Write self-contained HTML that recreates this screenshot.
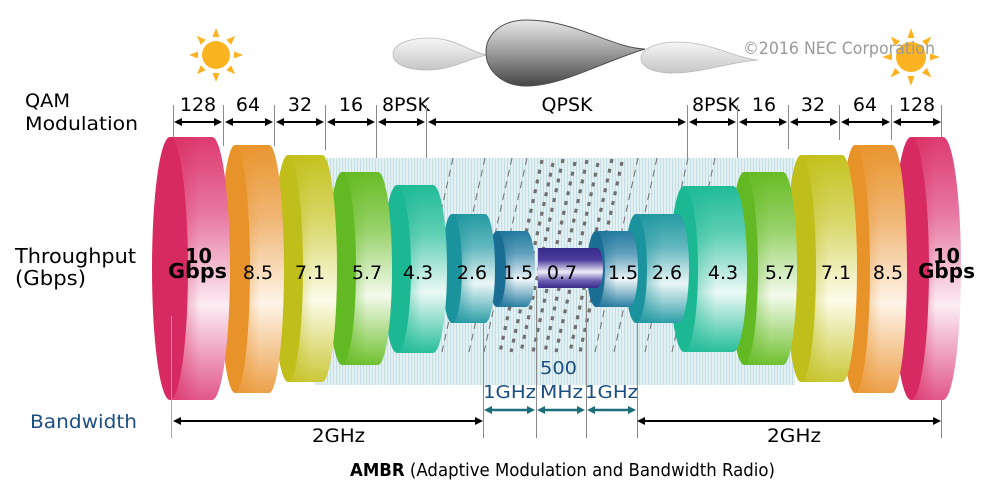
<!DOCTYPE html>
<html><head><meta charset="utf-8"><style>
html,body{margin:0;padding:0;background:#fff;}
body{width:1000px;height:492px;overflow:hidden;}
svg{display:block;}
text{font-family:"DejaVu Sans","Liberation Sans",sans-serif;}
</style></head><body>
<svg width="1000" height="492" viewBox="0 0 1000 492" xmlns="http://www.w3.org/2000/svg">
<defs>
<pattern id="stripes" width="3" height="10" patternUnits="userSpaceOnUse">
<rect width="3" height="10" fill="#e4f1f4"/><rect width="1" height="10" fill="#c5dee4"/>
</pattern>
<linearGradient id="gPink" x1="0" y1="0" x2="0" y2="1"><stop offset="0" stop-color="#dd3a70"/><stop offset=".3" stop-color="#e87aa3"/><stop offset=".64" stop-color="#fcedf3"/><stop offset="1" stop-color="#e1578a"/></linearGradient>
<linearGradient id="gOr" x1="0" y1="0" x2="0" y2="1"><stop offset="0" stop-color="#e9962f"/><stop offset=".3" stop-color="#f0b676"/><stop offset=".64" stop-color="#fef4e8"/><stop offset="1" stop-color="#eca04a"/></linearGradient>
<linearGradient id="gYe" x1="0" y1="0" x2="0" y2="1"><stop offset="0" stop-color="#c4c21f"/><stop offset=".3" stop-color="#d9d86c"/><stop offset=".64" stop-color="#fcfcea"/><stop offset="1" stop-color="#cac838"/></linearGradient>
<linearGradient id="gGr" x1="0" y1="0" x2="0" y2="1"><stop offset="0" stop-color="#68bc25"/><stop offset=".3" stop-color="#98d26b"/><stop offset=".64" stop-color="#f3faec"/><stop offset="1" stop-color="#70c131"/></linearGradient>
<linearGradient id="gTe" x1="0" y1="0" x2="0" y2="1"><stop offset="0" stop-color="#20bb97"/><stop offset=".3" stop-color="#62cfb6"/><stop offset=".64" stop-color="#ecf9f6"/><stop offset="1" stop-color="#28be9b"/></linearGradient>
<linearGradient id="gTb" x1="0" y1="0" x2="0" y2="1"><stop offset="0" stop-color="#259aa3"/><stop offset=".3" stop-color="#62b7be"/><stop offset=".64" stop-color="#ebf6f7"/><stop offset="1" stop-color="#2c9ea7"/></linearGradient>
<linearGradient id="gBl" x1="0" y1="0" x2="0" y2="1"><stop offset="0" stop-color="#257ba0"/><stop offset=".3" stop-color="#62a1be"/><stop offset=".64" stop-color="#eef5f8"/><stop offset="1" stop-color="#2a7fa3"/></linearGradient>
<linearGradient id="gPu" x1="0" y1="0" x2="0" y2="1"><stop offset="0" stop-color="#382a88"/><stop offset=".3" stop-color="#4b3d9c"/><stop offset=".6" stop-color="#f0eef8"/><stop offset=".82" stop-color="#6a5db1"/><stop offset="1" stop-color="#392b89"/></linearGradient>
<linearGradient id="hPink" x1="0" y1="0" x2="1" y2="0"><stop offset="0" stop-color="#d82a62" stop-opacity=".6"/><stop offset=".5" stop-color="#d82a62" stop-opacity="0"/></linearGradient>
<linearGradient id="hOr" x1="0" y1="0" x2="1" y2="0"><stop offset="0" stop-color="#e8932a" stop-opacity=".6"/><stop offset=".5" stop-color="#e8932a" stop-opacity="0"/></linearGradient>
<linearGradient id="hYe" x1="0" y1="0" x2="1" y2="0"><stop offset="0" stop-color="#c0be1b" stop-opacity=".6"/><stop offset=".5" stop-color="#c0be1b" stop-opacity="0"/></linearGradient>
<linearGradient id="hGr" x1="0" y1="0" x2="1" y2="0"><stop offset="0" stop-color="#63b923" stop-opacity=".6"/><stop offset=".5" stop-color="#63b923" stop-opacity="0"/></linearGradient>
<linearGradient id="hTe" x1="0" y1="0" x2="1" y2="0"><stop offset="0" stop-color="#1cb894" stop-opacity=".6"/><stop offset=".5" stop-color="#1cb894" stop-opacity="0"/></linearGradient>
<linearGradient id="hTb" x1="0" y1="0" x2="1" y2="0"><stop offset="0" stop-color="#1a939c" stop-opacity=".6"/><stop offset=".5" stop-color="#1a939c" stop-opacity="0"/></linearGradient>
<linearGradient id="hBl" x1="0" y1="0" x2="1" y2="0"><stop offset="0" stop-color="#1a6e93" stop-opacity=".6"/><stop offset=".5" stop-color="#1a6e93" stop-opacity="0"/></linearGradient>
<linearGradient id="cLight" x1="0" y1="0" x2="0" y2="1"><stop offset="0" stop-color="#f6f6f6"/><stop offset="1" stop-color="#c6c6c6"/></linearGradient>
<linearGradient id="cDark" x1="0" y1="0" x2="0" y2="1"><stop offset="0" stop-color="#e8e8e8"/><stop offset=".5" stop-color="#9a9a9a"/><stop offset="1" stop-color="#454545"/></linearGradient>
</defs>

<!-- suns -->
<g transform="translate(216,55)" fill="#fbb321">
<circle r="14"/>
<polygon points="0,-27 -3.5,-18 3.5,-18"/>
<polygon points="0,-27 -3.5,-18 3.5,-18" transform="rotate(45)"/>
<polygon points="0,-27 -3.5,-18 3.5,-18" transform="rotate(90)"/>
<polygon points="0,-27 -3.5,-18 3.5,-18" transform="rotate(135)"/>
<polygon points="0,-27 -3.5,-18 3.5,-18" transform="rotate(180)"/>
<polygon points="0,-27 -3.5,-18 3.5,-18" transform="rotate(225)"/>
<polygon points="0,-27 -3.5,-18 3.5,-18" transform="rotate(270)"/>
<polygon points="0,-27 -3.5,-18 3.5,-18" transform="rotate(315)"/>
</g>
<g transform="translate(911,57)" fill="#fbb321">
<circle r="15"/>
<polygon points="0,-29 -3.5,-19 3.5,-19"/>
<polygon points="0,-29 -3.5,-19 3.5,-19" transform="rotate(45)"/>
<polygon points="0,-29 -3.5,-19 3.5,-19" transform="rotate(90)"/>
<polygon points="0,-29 -3.5,-19 3.5,-19" transform="rotate(135)"/>
<polygon points="0,-29 -3.5,-19 3.5,-19" transform="rotate(180)"/>
<polygon points="0,-29 -3.5,-19 3.5,-19" transform="rotate(225)"/>
<polygon points="0,-29 -3.5,-19 3.5,-19" transform="rotate(270)"/>
<polygon points="0,-29 -3.5,-19 3.5,-19" transform="rotate(315)"/>
</g>

<!-- clouds -->
<path d="M487,55 C470,52 455,38 430,38 C403,38 393,47 393,54 C393,63 404,70 428,70 C452,70 470,58 487,55 Z" fill="url(#cLight)" stroke="#b8b8b8" stroke-width="0.8"/>
<path d="M758,60 C735,58 710,42 678,42 C652,42 641,51 641,58 C641,66 651,73 673,73 C702,73 730,62 758,60 Z" fill="url(#cLight)" stroke="#b8b8b8" stroke-width="0.8"/>
<path d="M645,49 C612,48 575,20 527,20 C497,20 486,38 486,52 C486,72 504,86 526,86 C562,86 602,62 645,49 Z" fill="url(#cDark)" stroke="#505050" stroke-width="1"/>

<text x="743" y="54" font-size="17" fill="#9a9a9a" textLength="192" lengthAdjust="spacingAndGlyphs">©2016 NEC Corporation</text>

<!-- QAM labels -->
<text x="25" y="107" font-size="19" fill="#000" textLength="45" lengthAdjust="spacingAndGlyphs">QAM</text>
<text x="25" y="130" font-size="19" fill="#000" textLength="113" lengthAdjust="spacingAndGlyphs">Modulation</text>
<g font-size="19" fill="#000" text-anchor="middle">
<text x="198" y="111">128</text>
<text x="248" y="111">64</text>
<text x="300" y="111">32</text>
<text x="351" y="111">16</text>
<text x="406" y="111">8PSK</text>
<text x="567" y="111">QPSK</text>
<text x="716" y="111">8PSK</text>
<text x="764" y="111">16</text>
<text x="813" y="111">32</text>
<text x="865" y="111">64</text>
<text x="917" y="111">128</text>
</g>

<!-- top ticks -->
<g stroke="#8a8a8a" stroke-width="1">
<line x1="173.5" y1="105" x2="173.5" y2="140"/>
<line x1="223.5" y1="105" x2="223.5" y2="146"/>
<line x1="274.5" y1="105" x2="274.5" y2="146"/>
<line x1="325.5" y1="105" x2="325.5" y2="150"/>
<line x1="376.5" y1="105" x2="376.5" y2="163"/>
<line x1="426.5" y1="105" x2="426.5" y2="175"/>
<line x1="687.5" y1="105" x2="687.5" y2="173"/>
<line x1="737.5" y1="105" x2="737.5" y2="163"/>
<line x1="788.5" y1="105" x2="788.5" y2="149"/>
<line x1="839.5" y1="105" x2="839.5" y2="140"/>
<line x1="891.5" y1="105" x2="891.5" y2="140"/>
<line x1="941.5" y1="105" x2="941.5" y2="140"/>
</g>

<!-- top arrows -->
<g stroke="#000" stroke-width="2">
<line x1="180" y1="122" x2="217" y2="122"/>
<line x1="230" y1="122" x2="268" y2="122"/>
<line x1="281" y1="122" x2="319" y2="122"/>
<line x1="332" y1="122" x2="370" y2="122"/>
<line x1="383" y1="122" x2="420" y2="122"/>
<line x1="433" y1="122" x2="681" y2="122"/>
<line x1="694" y1="122" x2="731" y2="122"/>
<line x1="744" y1="122" x2="782" y2="122"/>
<line x1="795" y1="122" x2="833" y2="122"/>
<line x1="846" y1="122" x2="885" y2="122"/>
<line x1="898" y1="122" x2="935" y2="122"/>
</g>
<g fill="#000">
<polygon points="174,122 182,118 182,126"/><polygon points="222,122 214,118 214,126"/>
<polygon points="225,122 233,118 233,126"/><polygon points="273,122 265,118 265,126"/>
<polygon points="276,122 284,118 284,126"/><polygon points="324,122 316,118 316,126"/>
<polygon points="327,122 335,118 335,126"/><polygon points="375,122 367,118 367,126"/>
<polygon points="378,122 386,118 386,126"/><polygon points="425,122 417,118 417,126"/>
<polygon points="428,122 436,118 436,126"/><polygon points="686,122 678,118 678,126"/>
<polygon points="689,122 697,118 697,126"/><polygon points="736,122 728,118 728,126"/>
<polygon points="739,122 747,118 747,126"/><polygon points="787,122 779,118 779,126"/>
<polygon points="790,122 798,118 798,126"/><polygon points="838,122 830,118 830,126"/>
<polygon points="841,122 849,118 849,126"/><polygon points="890,122 882,118 882,126"/>
<polygon points="893,122 901,118 901,126"/><polygon points="941,122 933,118 933,126"/>
</g>

<!-- background band -->
<rect x="315" y="158" width="480" height="227" fill="url(#stripes)"/>

<!-- rain -->
<g stroke="#6e6e6e" stroke-width="1" stroke-dasharray="7 5" fill="none">
<line x1="453" y1="158" x2="410" y2="352"/>
<line x1="485" y1="158" x2="442" y2="352"/>
<line x1="512" y1="158" x2="469" y2="352"/>
<line x1="527" y1="158" x2="484" y2="352"/>
<line x1="638" y1="158" x2="595" y2="352"/>
<line x1="657" y1="158" x2="614" y2="352"/>
<line x1="688" y1="158" x2="645" y2="352"/>
<line x1="715" y1="158" x2="672" y2="352"/>
</g>
<g stroke="#6f6f6f" stroke-width="3.2" stroke-dasharray="4 6" fill="none">
<line x1="542" y1="160" x2="500" y2="352"/>
<line x1="553" y1="163" x2="511" y2="352"/>
<line x1="563" y1="159" x2="521" y2="352"/>
<line x1="575" y1="162" x2="533" y2="352"/>
<line x1="587" y1="160" x2="545" y2="352"/>
<line x1="598" y1="163" x2="556" y2="352"/>
<line x1="612" y1="159" x2="570" y2="352"/>
<line x1="622" y1="162" x2="580" y2="352"/>
</g>

<!-- bottom ticks (behind cylinders) -->
<g stroke="#8a8a8a" stroke-width="1">
<line x1="483.5" y1="300" x2="483.5" y2="438"/>
<line x1="536.5" y1="290" x2="536.5" y2="438"/>
<line x1="586.5" y1="290" x2="586.5" y2="438"/>
<line x1="637.5" y1="300" x2="637.5" y2="438"/>
<line x1="941.5" y1="380" x2="941.5" y2="438"/>
</g>

<!-- cylinders: drawn right to left -->
<!-- 10R -->
<path d="M911,137 H943 A18,131.5 0 0 1 943,400 H911 Z" fill="url(#gPink)"/>
<path d="M911,137 H943 A18,131.5 0 0 1 943,400 H911 Z" fill="url(#hPink)"/>
<ellipse cx="911" cy="268.5" rx="18" ry="131.5" fill="#d82a62"/>
<!-- 8.5R -->
<path d="M855,145 H892 A15,124 0 0 1 892,393 H855 Z" fill="url(#gOr)"/>
<path d="M855,145 H892 A15,124 0 0 1 892,393 H855 Z" fill="url(#hOr)"/>
<ellipse cx="855" cy="269" rx="15" ry="124" fill="#e8932a"/>
<!-- 7.1R -->
<path d="M801,155 H842 A15,113.5 0 0 1 842,382 H801 Z" fill="url(#gYe)"/>
<path d="M801,155 H842 A15,113.5 0 0 1 842,382 H801 Z" fill="url(#hYe)"/>
<ellipse cx="801" cy="268.5" rx="15" ry="113.5" fill="#c0be1b"/>
<!-- 5.7R -->
<path d="M744,172 H783 A14,96.5 0 0 1 783,365 H744 Z" fill="url(#gGr)"/>
<path d="M744,172 H783 A14,96.5 0 0 1 783,365 H744 Z" fill="url(#hGr)"/>
<ellipse cx="744" cy="268.5" rx="14" ry="96.5" fill="#63b923"/>
<!-- 4.3R -->
<path d="M684,186 H733 A14,83 0 0 1 733,352 H684 Z" fill="url(#gTe)"/>
<path d="M684,186 H733 A14,83 0 0 1 733,352 H684 Z" fill="url(#hTe)"/>
<ellipse cx="684" cy="269" rx="14" ry="83" fill="#1cb894"/>
<!-- 2.6R -->
<path d="M636,214 H678 A11,54.5 0 0 1 678,323 H636 Z" fill="url(#gTb)"/>
<path d="M636,214 H678 A11,54.5 0 0 1 678,323 H636 Z" fill="url(#hTb)"/>
<ellipse cx="636" cy="268.5" rx="11" ry="54.5" fill="#1a939c"/>
<!-- 1.5R -->
<path d="M596,231 H629 A9,38 0 0 1 629,307 H596 Z" fill="url(#gBl)"/>
<path d="M596,231 H629 A9,38 0 0 1 629,307 H596 Z" fill="url(#hBl)"/>
<ellipse cx="596" cy="269" rx="9" ry="38" fill="#1a6e93"/>
<!-- 0.7 -->
<path d="M538,248 H597 A6,20 0 0 1 597,288 H538 Z" fill="url(#gPu)"/>
<!-- 1.5L -->
<path d="M497,231 H526 A9,38 0 0 1 526,307 H497 Z" fill="url(#gBl)"/>
<path d="M497,231 H526 A9,38 0 0 1 526,307 H497 Z" fill="url(#hBl)"/>
<ellipse cx="497" cy="269" rx="9" ry="38" fill="#1a6e93"/>
<!-- 2.6L -->
<path d="M452,214 H485 A10,54.5 0 0 1 485,323 H452 Z" fill="url(#gTb)"/>
<path d="M452,214 H485 A10,54.5 0 0 1 485,323 H452 Z" fill="url(#hTb)"/>
<ellipse cx="452" cy="268.5" rx="10" ry="54.5" fill="#1a939c"/>
<!-- 4.3L -->
<path d="M397,185 H433 A14,84 0 0 1 433,353 H397 Z" fill="url(#gTe)"/>
<path d="M397,185 H433 A14,84 0 0 1 433,353 H397 Z" fill="url(#hTe)"/>
<ellipse cx="397" cy="269" rx="14" ry="84" fill="#1cb894"/>
<!-- 5.7L -->
<path d="M342,172 H378 A14,96.5 0 0 1 378,365 H342 Z" fill="url(#gGr)"/>
<path d="M342,172 H378 A14,96.5 0 0 1 378,365 H342 Z" fill="url(#hGr)"/>
<ellipse cx="342" cy="268.5" rx="14" ry="96.5" fill="#63b923"/>
<!-- 7.1L -->
<path d="M288,155 H322 A15,113.5 0 0 1 322,382 H288 Z" fill="url(#gYe)"/>
<path d="M288,155 H322 A15,113.5 0 0 1 322,382 H288 Z" fill="url(#hYe)"/>
<ellipse cx="288" cy="268.5" rx="15" ry="113.5" fill="#c0be1b"/>
<!-- 8.5L -->
<path d="M235,145 H269 A15,124 0 0 1 269,393 H235 Z" fill="url(#gOr)"/>
<path d="M235,145 H269 A15,124 0 0 1 269,393 H235 Z" fill="url(#hOr)"/>
<ellipse cx="235" cy="269" rx="15" ry="124" fill="#e8932a"/>
<!-- 10L -->
<path d="M170,137 H212 A18,131.5 0 0 1 212,400 H170 Z" fill="url(#gPink)"/>
<path d="M170,137 H212 A18,131.5 0 0 1 212,400 H170 Z" fill="url(#hPink)"/>
<ellipse cx="170" cy="268.5" rx="18" ry="131.5" fill="#d82a62"/>

<!-- left tick over pink -->
<line x1="171.5" y1="316" x2="171.5" y2="438" stroke="#a8a8a8" stroke-width="1"/>

<!-- cylinder labels -->
<g font-size="19" fill="#000" text-anchor="middle">
<text x="258" y="279">8.5</text>
<text x="310" y="279">7.1</text>
<text x="367" y="279">5.7</text>
<text x="418" y="279">4.3</text>
<text x="472" y="279">2.6</text>
<text x="518" y="279">1.5</text>
<text x="562" y="279">0.7</text>
<text x="623" y="279">1.5</text>
<text x="667" y="279">2.6</text>
<text x="723" y="279">4.3</text>
<text x="780" y="279">5.7</text>
<text x="836" y="279">7.1</text>
<text x="888" y="279">8.5</text>
</g>
<g font-size="20" font-weight="bold" fill="#000">
<text x="185" y="263" textLength="27" lengthAdjust="spacingAndGlyphs">10</text>
<text x="168" y="278" textLength="59" lengthAdjust="spacingAndGlyphs">Gbps</text>
<text x="933" y="263" textLength="27" lengthAdjust="spacingAndGlyphs">10</text>
<text x="918" y="278" textLength="57" lengthAdjust="spacingAndGlyphs">Gbps</text>
</g>

<!-- left labels -->
<text x="15" y="263" font-size="20" fill="#000" textLength="121" lengthAdjust="spacingAndGlyphs">Throughput</text>
<text x="15" y="285" font-size="20" fill="#000" textLength="71" lengthAdjust="spacingAndGlyphs">(Gbps)</text>
<text x="30" y="428" font-size="19" fill="#1b4f82" textLength="107" lengthAdjust="spacingAndGlyphs">Bandwidth</text>

<!-- bandwidth labels -->
<g font-size="18" fill="#1b4f82">
<text x="483" y="398" textLength="53" lengthAdjust="spacingAndGlyphs">1GHz</text>
<text x="540" y="374" textLength="37" lengthAdjust="spacingAndGlyphs">500</text>
<text x="540" y="398" textLength="43" lengthAdjust="spacingAndGlyphs">MHz</text>
<text x="585" y="398" textLength="53" lengthAdjust="spacingAndGlyphs">1GHz</text>
</g>

<!-- teal arrows -->
<g stroke="#1e6d7b" stroke-width="2.5">
<line x1="489" y1="410" x2="530" y2="410"/>
<line x1="542" y1="410" x2="580" y2="410"/>
<line x1="592" y1="410" x2="631" y2="410"/>
</g>
<g fill="#1e6d7b">
<polygon points="484,410 492,406 492,414"/><polygon points="535,410 527,406 527,414"/>
<polygon points="537,410 545,406 545,414"/><polygon points="585,410 577,406 577,414"/>
<polygon points="587,410 595,406 595,414"/><polygon points="636,410 628,406 628,414"/>
</g>

<!-- black bottom arrows -->
<g stroke="#000" stroke-width="2">
<line x1="180" y1="421" x2="476" y2="421"/>
<line x1="644" y1="421" x2="935" y2="421"/>
</g>
<g fill="#000">
<polygon points="173,421 181,417 181,425"/><polygon points="483,421 475,417 475,425"/>
<polygon points="637,421 645,417 645,425"/><polygon points="941,421 933,417 933,425"/>
</g>
<g font-size="19" fill="#000">
<text x="312" y="442" textLength="53" lengthAdjust="spacingAndGlyphs">2GHz</text>
<text x="767" y="442" textLength="54" lengthAdjust="spacingAndGlyphs">2GHz</text>
</g>

<text x="350" y="476" font-size="18" fill="#000" textLength="425" lengthAdjust="spacingAndGlyphs"><tspan font-weight="bold">AMBR</tspan> (Adaptive Modulation and Bandwidth Radio)</text>
</svg>
</body></html>
